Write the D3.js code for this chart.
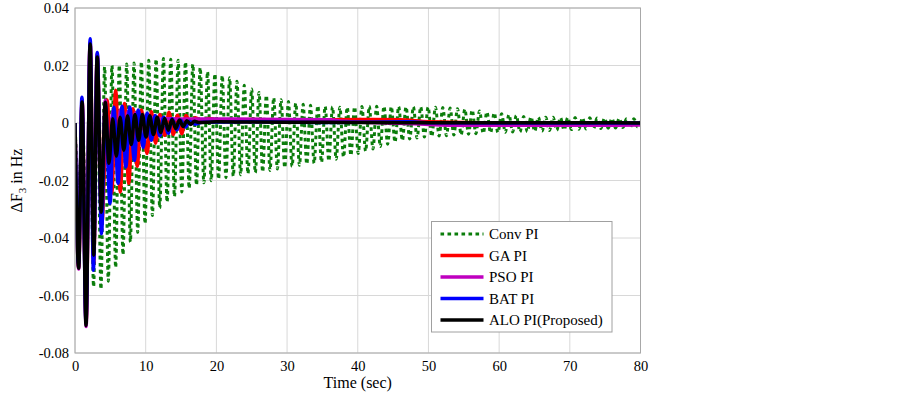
<!DOCTYPE html>
<html>
<head>
<meta charset="utf-8">
<script src="https://cdn.jsdelivr.net/npm/d3@7"></script>
<style>
  body { margin: 0; background: #fff; }
  text { font-family: "Liberation Serif", "Times New Roman", serif; }
</style>
</head>
<body>
<div id="chart"></div>
<script>
// SVG size and plot box
var svgWidth = 903;
var svgHeight = 394;
var margin = { top: 8, right: 262.5, bottom: 41, left: 75 };
var chartWidth = svgWidth - margin.left - margin.right;
var chartHeight = svgHeight - margin.top - margin.bottom;
var serif = '"Liberation Serif", "Times New Roman", serif';

// Axis ticks
var xTicks = [0, 10, 20, 30, 40, 50, 60, 70, 80];
var yTicks = [-0.08, -0.06, -0.04, -0.02, 0, 0.02, 0.04];
var yTickLabels = ["-0.08", "-0.06", "-0.04", "-0.02", "0", "0.02", "0.04"];

// Series names (legend order)
var seriesNames = ["Conv PI", "GA PI", "PSO PI", "BAT PI", "ALO PI(Proposed)"];

// Conv PI: local maxima and minima (time in s, value in Hz)
var convPeakTime = [0, 1.07, 2.11, 3.15, 4.19, 5.23, 6.27, 7.31, 8.35, 9.39, 10.43, 11.47, 12.51, 13.55, 14.59,
  15.63, 16.67, 17.71, 18.75, 19.79, 20.83, 21.87, 22.91, 23.95, 24.99, 26.03, 27.07, 28.11, 29.15, 30.19,
  31.23, 32.27, 33.31, 34.35, 35.39, 36.43, 37.47, 38.51, 39.55, 40.59, 41.63, 42.67, 43.71, 44.75, 45.79,
  46.83, 47.87, 48.91, 49.95, 50.99, 52.03, 53.07, 54.11, 55.15, 56.19, 57.23, 58.27, 59.31, 60.35, 61.39,
  62.43, 63.47, 64.51, 65.55, 66.59, 67.63, 68.67, 69.71, 70.75, 71.79, 72.83, 73.87, 74.91, 75.95, 76.99,
  78.03, 79.07, 80.11];
var convPeak = [0, 0.002, 0.012, 0.018, 0.0195, 0.0200, 0.0201, 0.0205, 0.0209, 0.0213, 0.0218, 0.0222, 0.0224, 0.0222, 0.0218,
  0.0212, 0.0204, 0.0192, 0.0178, 0.0171, 0.0165, 0.0157, 0.0145, 0.0131, 0.0118, 0.0106, 0.0096, 0.0088, 0.0081, 0.0075,
  0.0069, 0.0065, 0.0062, 0.0060, 0.0058, 0.0056, 0.0055, 0.0055, 0.0056, 0.0057, 0.0058, 0.0058, 0.0058, 0.0057, 0.0057,
  0.0056, 0.0056, 0.0056, 0.0055, 0.0055, 0.0054, 0.0052, 0.0050, 0.0048, 0.0045, 0.0042, 0.0038, 0.0035, 0.0032, 0.0029,
  0.0026, 0.0023, 0.0021, 0.0020, 0.0020, 0.0020, 0.0019, 0.0019, 0.0019, 0.0018, 0.0018, 0.0017, 0.0017, 0.0016, 0.0016,
  0.0015, 0.0015, 0.0014];
var convTroughTime = [0.55, 1.59, 2.63, 3.67, 4.71, 5.75, 6.79, 7.83, 8.87, 9.91, 10.95, 11.99, 13.03, 14.07, 15.11,
  16.15, 17.19, 18.23, 19.27, 20.31, 21.35, 22.39, 23.43, 24.47, 25.51, 26.55, 27.59, 28.63, 29.67, 30.71,
  31.75, 32.79, 33.83, 34.87, 35.91, 36.95, 37.99, 39.03, 40.07, 41.11, 42.15, 43.19, 44.23, 45.27, 46.31,
  47.35, 48.39, 49.43, 50.47, 51.51, 52.55, 53.59, 54.63, 55.67, 56.71, 57.75, 58.79, 59.83, 60.87, 61.91,
  62.95, 63.99, 65.03, 66.07, 67.11, 68.15, 69.19, 70.23, 71.27, 72.31, 73.35, 74.39, 75.43, 76.47, 77.51,
  78.55, 79.59];
var convTrough = [-0.022, -0.046, -0.057, -0.0578, -0.0550, -0.0503, -0.0458, -0.0414, -0.0380, -0.0350, -0.0322, -0.0296, -0.0275, -0.0256, -0.0240,
  -0.0227, -0.0216, -0.0208, -0.0201, -0.0195, -0.0190, -0.0185, -0.0180, -0.0176, -0.0173, -0.0170, -0.0165, -0.0160, -0.0155, -0.0151,
  -0.0147, -0.0143, -0.0140, -0.0137, -0.0132, -0.0126, -0.0119, -0.0113, -0.0106, -0.0098, -0.0090, -0.0082, -0.0074, -0.0067, -0.0061,
  -0.0056, -0.0052, -0.0049, -0.0047, -0.0045, -0.0044, -0.0042, -0.0041, -0.0039, -0.0037, -0.0036, -0.0034, -0.0033, -0.0032, -0.0031,
  -0.0031, -0.0030, -0.0029, -0.0028, -0.0026, -0.0025, -0.0024, -0.0023, -0.0022, -0.0021, -0.0020, -0.0019, -0.0018, -0.0017, -0.0016,
  -0.0015, -0.0014];

// GA PI turning points
var gaTime = [0, 0.52, 1.0, 1.57, 2.14, 2.64, 3.14, 3.8, 4.55, 5.2, 5.75, 6.4, 7.0, 7.6, 8.2, 8.8, 9.4, 10.2, 10.8,
  11.4, 12.0, 12.7, 13.3, 13.9, 14.5, 15.1, 15.7, 16.3, 17.0, 18.0, 19.0, 20.0, 25, 30, 36, 42, 46, 50, 60, 80];
var gaValue = [0, -0.050, 0.008, -0.069, 0.028, -0.049, 0.024, -0.035, 0.008, -0.0245, 0.0114, -0.024, 0.0068, -0.021, 0.005, -0.015, 0.0045, -0.0106, 0.004,
  -0.007, 0.003, -0.0043, 0.0037, -0.004, 0.0027, -0.0037, 0.0026, 0.0003, 0.0018, 0.0008, 0.0016, 0.001, 0.0012, 0.0010, 0.0011, 0.0012, 0.0011, 0.0004, 0, 0];

// PSO PI turning points
var psoTime = [0, 0.52, 1.0, 1.57, 2.14, 2.65, 3.14, 3.72, 4.28, 4.8, 5.35, 5.9, 6.42, 6.95, 7.5, 8.0, 8.55, 9.1, 9.6,
  10.2, 10.7, 11.3, 12, 15, 20, 25, 30, 36, 38, 42, 48, 55, 60, 70, 80];
var psoValue = [0, -0.0508, 0.0078, -0.0708, 0.028, -0.0475, 0.0235, -0.032, 0.008, -0.016, 0.004, -0.012, 0.0045, -0.009, 0.004, -0.006, 0.0035, -0.0035, 0.0028,
  -0.0015, 0.0022, 0.0005, 0.0016, 0.0014, 0.0014, 0.0013, 0.0012, 0.0011, 0.0006, 0.0002, -0.0003, -0.0008, -0.0008, -0.0008, -0.0007];

// BAT PI turning points
var batTime = [0, 0.5, 0.98, 1.55, 2.15, 2.6, 3.15, 3.75, 4.3, 4.95, 5.5, 6.1, 6.65, 7.2, 7.75, 8.4, 8.95, 9.65, 10.2,
  10.8, 11.35, 12.0, 12.55, 13.2, 13.75, 14.4, 14.95, 15.6, 16.2, 17.0, 18.0, 25, 35, 47, 50, 60, 80];
var batValue = [0, -0.049, 0.009, -0.069, 0.0293, -0.0512, 0.0245, -0.0385, 0.0062, -0.028, 0.0055, -0.021, 0.0058, -0.0153, 0.0056, -0.013, 0.0045, -0.0085, 0.0035,
  -0.006, 0.0026, -0.0045, 0.002, -0.0036, 0.0015, -0.0024, 0.001, -0.0014, 0.0006, -0.0004, 0.0003, 0.0004, 0.0002, 0.0004, 0.0001, 0, 0];

// ALO PI (proposed) turning points
var aloTime = [0, 0.52, 1.0, 1.56, 2.14, 2.65, 3.14, 3.72, 4.28, 4.8, 5.33, 5.85, 6.38, 6.9, 7.43, 7.95, 8.48, 9.0, 9.53,
  10.05, 10.58, 11.1, 11.63, 12.15, 12.68, 13.2, 13.73, 14.25, 14.78, 15.3, 15.83, 16.35, 16.9, 17.5, 20, 30, 40, 50, 60, 70, 80];
var aloValue = [0, -0.0505, 0.0073, -0.0704, 0.0275, -0.046, 0.023, -0.031, 0.0072, -0.014, 0.0015, -0.0115, 0.002, -0.0095, 0.0025, -0.0075, 0.003, -0.006, 0.003,
  -0.0049, 0.0025, -0.004, 0.002, -0.0033, 0.0016, -0.0025, 0.0012, -0.0019, 0.001, -0.0012, 0.0008, -0.0005, 0.0006, 0.0002, 0.0004, 0.0003, 0.0002, 0.0001, 0.0001, 0.0001, 0];

// Build point lists
function zipPoints(ts, vs) {
  return ts.map(function(t, i) { return { t: t, v: vs[i] }; });
}
var convPoints = zipPoints(convPeakTime, convPeak)
  .concat(zipPoints(convTroughTime, convTrough))
  .sort(function(a, b) { return a.t - b.t; });

var series = [
  { name: seriesNames[0], points: convPoints, color: "#0b7d0b", width: 3, dash: "3.6,3.4" },
  { name: seriesNames[1], points: zipPoints(gaTime, gaValue), color: "#ff0000", width: 3.5, dash: null },
  { name: seriesNames[2], points: zipPoints(psoTime, psoValue), color: "#bf00bf", width: 3.5, dash: null },
  { name: seriesNames[3], points: zipPoints(batTime, batValue), color: "#0000ff", width: 3.5, dash: null },
  { name: seriesNames[4], points: zipPoints(aloTime, aloValue), color: "#000000", width: 3.5, dash: null }
];

var svg = d3.select("#chart")
  .append("svg")
  .attr("width", svgWidth)
  .attr("height", svgHeight);

var chartGroup = svg.append("g")
  .attr("transform", `translate(${margin.left}, ${margin.top})`);

var xScale = d3.scaleLinear().domain([0, 80]).range([0, chartWidth]);
var yScale = d3.scaleLinear().domain([-0.08, 0.04]).range([chartHeight, 0]);

// Grid lines
chartGroup.append("g")
  .selectAll("line")
  .data(xTicks)
  .enter()
  .append("line")
  .attr("x1", d => xScale(d)).attr("x2", d => xScale(d))
  .attr("y1", 0).attr("y2", chartHeight)
  .attr("stroke", "#d8d8d8").attr("stroke-width", 1);

chartGroup.append("g")
  .selectAll("line")
  .data(yTicks)
  .enter()
  .append("line")
  .attr("x1", 0).attr("x2", chartWidth)
  .attr("y1", d => yScale(d)).attr("y2", d => yScale(d))
  .attr("stroke", "#d8d8d8").attr("stroke-width", 1);

// Clip for the lines
svg.append("defs").append("clipPath").attr("id", "plotClip")
  .append("rect").attr("x", 0).attr("y", 0).attr("width", chartWidth).attr("height", chartHeight);

var line = d3.line()
  .x(d => xScale(d.t))
  .y(d => yScale(d.v))
  .curve(d3.curveMonotoneX);

var linesGroup = chartGroup.append("g").attr("clip-path", "url(#plotClip)");
linesGroup.selectAll("path")
  .data(series)
  .enter()
  .append("path")
  .attr("d", d => line(d.points))
  .attr("fill", "none")
  .attr("stroke", d => d.color)
  .attr("stroke-width", d => d.width)
  .attr("stroke-dasharray", d => d.dash)
  .attr("stroke-linejoin", "round");

// Axes (no outer tick marks, labels only)
var bottomAxis = d3.axisBottom(xScale).tickValues(xTicks).tickSize(0).tickPadding(8);
var leftAxis = d3.axisLeft(yScale).tickValues(yTicks).tickSize(0).tickPadding(6)
  .tickFormat((d, i) => yTickLabels[i]);

var xAxis = chartGroup.append("g")
  .attr("transform", `translate(0, ${chartHeight})`)
  .call(bottomAxis);
var yAxis = chartGroup.append("g").call(leftAxis);

[xAxis, yAxis].forEach(function(ax) {
  ax.attr("font-family", null);
  ax.select(".domain").remove();
  ax.selectAll("text")
    .style("font-family", serif)
    .style("font-size", "14.5px")
    .attr("fill", "#000");
});

// Frame
chartGroup.append("rect")
  .attr("x", 0).attr("y", 0)
  .attr("width", chartWidth).attr("height", chartHeight)
  .attr("fill", "none")
  .attr("stroke", "#a8a8a8")
  .attr("stroke-width", 1);

// Axis labels
chartGroup.append("text")
  .attr("x", chartWidth / 2)
  .attr("y", chartHeight + 35)
  .attr("text-anchor", "middle")
  .attr("font-size", "16px")
  .text("Time (sec)");

var yLabel = svg.append("text")
  .attr("transform", `translate(22, ${margin.top + chartHeight / 2}) rotate(-90)`)
  .attr("text-anchor", "middle")
  .attr("font-size", "16px");
yLabel.append("tspan").text("\u0394F");
yLabel.append("tspan").attr("font-size", "11px").attr("dy", 4).text("3");
yLabel.append("tspan").attr("dy", -4).text(" in Hz");

// Legend
var legend = svg.append("g").attr("transform", "translate(431.5, 221.5)");
legend.append("rect")
  .attr("width", 180.5).attr("height", 110.5)
  .attr("fill", "#fff")
  .attr("stroke", "#a0a0a0")
  .attr("stroke-width", 1);

var legendItems = legend.selectAll(".item")
  .data(series)
  .enter()
  .append("g")
  .attr("class", "item")
  .attr("transform", (d, i) => `translate(0, ${12.5 + i * 21.5})`);

legendItems.append("line")
  .attr("x1", 9).attr("x2", 52)
  .attr("y1", 0).attr("y2", 0)
  .attr("stroke", d => d.color)
  .attr("stroke-width", d => d.width)
  .attr("stroke-dasharray", d => d.dash);

legendItems.append("text")
  .attr("x", 57.5)
  .attr("y", 5)
  .attr("font-size", "15px")
  .text(d => d.name);
</script>
</body>
</html>
